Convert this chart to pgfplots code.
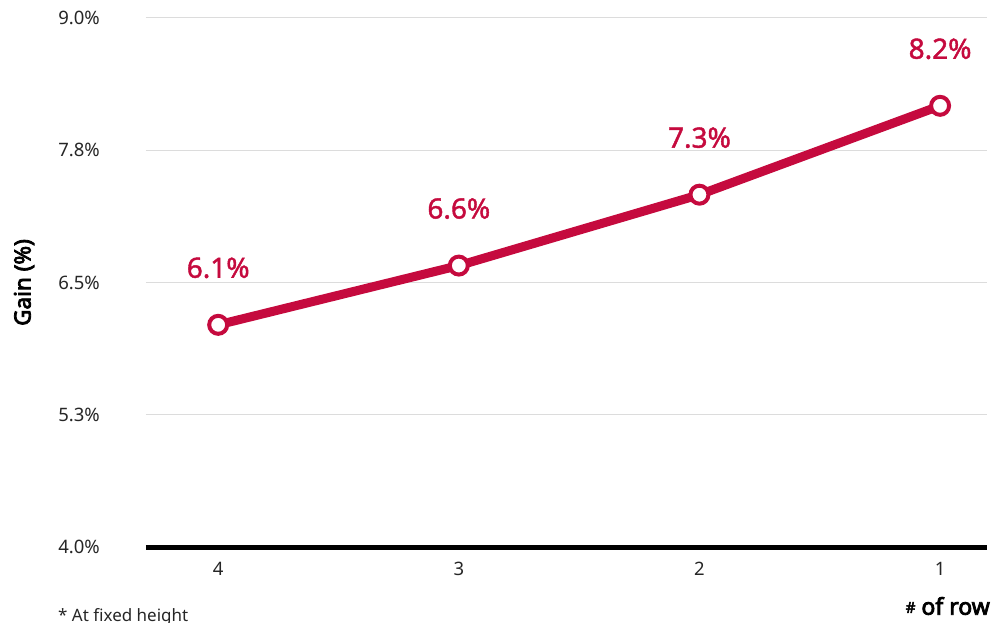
\documentclass[border=0pt]{standalone}
\usepackage{pgfplots}
\pgfplotsset{compat=1.18}
\usepackage{fontspec}
\setmainfont{Noto Sans}
\newfontfamily\labfont{Noto Sans}[FakeBold=1.5]
\newfontfamily\bfont{Noto Sans}[FakeBold=3.5]
\definecolor{crim}{RGB}{197,10,62}
\definecolor{gridc}{RGB}{220,220,220}
\begin{document}
\begin{tikzpicture}[x=1pt,y=1pt]
\useasboundingbox (-146,-75) rectangle (847,547);
\begin{axis}[
  at={(0,0)}, anchor=south west,
  scale only axis, width=841pt, height=529pt,
  xmin=-0.3, xmax=3.195, ymin=4, ymax=9,
  axis x line*=bottom,
  axis y line*=left,
  y axis line style={draw=none},
  x axis line style={line width=5pt, -},
  xtick={0,1,2,3}, xticklabels={4,3,2,1},
  ytick={4,5.25,6.5,7.75,9},
  yticklabels={4.0\%,5.3\%,6.5\%,7.8\%,9.0\%},
  major tick length=0pt,
  ymajorgrids, grid style={gridc, line width=1pt},
  tick label style={font=\fontsize{18.5}{21}\selectfont, text=black!85},
  yticklabel style={anchor=east, inner sep=0pt, xshift=-46pt},
  xticklabel style={anchor=north, inner sep=0pt, yshift=-15pt},
  ylabel={Gain (\%)},
  ylabel style={at={(axis description cs:-0.145,0.5)}, rotate=0, anchor=center, inner sep=0pt, font=\bfont\fontsize{22.5}{26}\selectfont},
  xlabel={\raisebox{0.15ex}{\fontsize{15}{17}\selectfont\#} of row},
  xlabel style={at={(axis description cs:1,0)}, anchor=east, inner sep=0pt, xshift=3pt, yshift=-59pt, font=\bfont\fontsize{23}{26}\selectfont},
  clip=false,
]
\addplot[crim, line width=9pt, mark=*, mark size=9pt,
  mark options={fill=white, draw=crim, line width=4pt},
  point meta=explicit symbolic,
  nodes near coords,
  every node near coord/.append style={anchor=center, yshift=57pt, text=crim, font=\labfont\fontsize{28}{32}\selectfont}]
  table[meta=lab] {
x y lab
0 6.10 6.1\%
1 6.66 6.6\%
2 7.33 7.3\%
3 8.17 8.2\%
};
\end{axis}
\node[anchor=north west, inner sep=0pt, font=\fontsize{17}{20}\selectfont, text=black!85] at (-88,-61) {* At fixed height};
\end{tikzpicture}
\end{document}
